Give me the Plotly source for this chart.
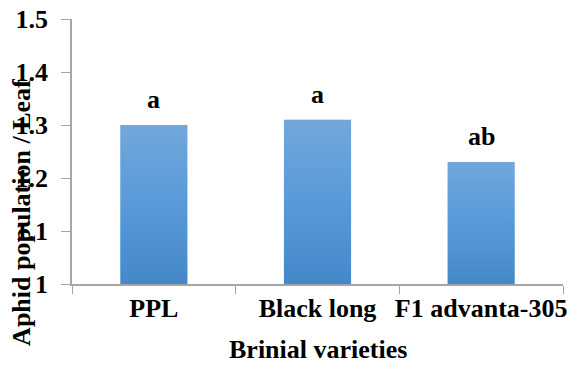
import plotly.graph_objects as go

varieties = ["PPL", "Black long", "F1 advanta-305"]
aphids_per_leaf = [1.30, 1.31, 1.23]
group_letters = ["a", "a", "ab"]

y_ticks = [1.0, 1.1, 1.2, 1.3, 1.4, 1.5]
y_tick_text = ["1", "1.1", "1.2", "1.3", "1.4", "1.5"]

FONT = "Liberation Serif"
FS = 26
AXIS_GREY = "#a6a6a6"
BAR_WIDTH = 0.41
BASE = 1.0

fig = go.Figure()

# invisible bars establish the category axis
fig.add_trace(go.Bar(x=varieties, y=aphids_per_leaf, base=0, marker_color="rgba(0,0,0,0)",
                     width=BAR_WIDTH, hoverinfo="skip", showlegend=False))

# bars with a vertical gradient, drawn on a numeric overlay axis
for i, (name, v) in enumerate(zip(varieties, aphids_per_leaf)):
    x0, x1 = i - BAR_WIDTH / 2, i + BAR_WIDTH / 2
    fig.add_trace(go.Scatter(
        x=[x0, x1, x1, x0, x0], y=[BASE, BASE, v, v, BASE],
        xaxis="x2", mode="lines", line=dict(width=0),
        fill="toself",
        fillgradient=dict(type="vertical", start=BASE, stop=v,
                          colorscale=[[0, "#4588c9"], [0.5, "#589ad9"], [1, "#72a7dc"]]),
        hoverinfo="skip", showlegend=False, name=name))

bold = dict(family=FONT, size=FS, color="black", weight="bold")

for name, v, letter in zip(varieties, aphids_per_leaf, group_letters):
    fig.add_annotation(x=name, y=v, text=letter, showarrow=False, yanchor="bottom",
                       yshift=9, font=bold)

fig.add_annotation(text="Aphid population / Leaf", textangle=-90, xref="paper", yref="paper",
                   x=-0.103, y=0.27, xanchor="center", yanchor="middle", showarrow=False,
                   font=bold)
# x-axis title sits on the bottom edge of the figure
fig.add_annotation(text="Brinial varieties", xref="paper", yref="paper",
                   x=0.5, y=-81 / 265, xanchor="center", yanchor="bottom", showarrow=False,
                   borderpad=0, font=bold)

fig.update_layout(
    width=573, height=365,
    margin=dict(l=72, r=10, t=19, b=81),
    plot_bgcolor="white", paper_bgcolor="white",
    font=bold,
    xaxis=dict(type="category", range=[-0.5, 2.5], showgrid=False, showline=True,
               linecolor=AXIS_GREY, linewidth=1.5, ticks="outside", tickson="boundaries",
               tickcolor=AXIS_GREY, ticklen=8, tickangle=0, automargin=False, tickfont=bold),
    xaxis2=dict(overlaying="x", range=[-0.5, 2.5], visible=False),
    yaxis=dict(range=[1.0, 1.5], tickvals=y_ticks, ticktext=y_tick_text, showgrid=False,
               zeroline=False, showline=True, linecolor=AXIS_GREY, linewidth=1.5,
               ticks="outside", tickcolor=AXIS_GREY, ticklen=9, ticklabelstandoff=8,
               automargin=False, tickfont=bold),
)

fig.write_html("out.html")
